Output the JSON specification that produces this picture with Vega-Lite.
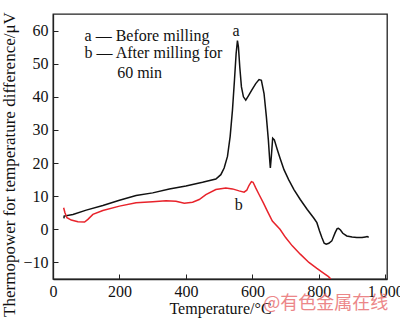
{
  "$schema": "https://vega.github.io/schema/vega-lite/v6.json",
  "width": 334,
  "height": 265,
  "autosize": {"type": "none"},
  "padding": {"left": 53, "top": 14, "right": 13, "bottom": 45},
  "background": "white",
  "config": {
    "font": "Liberation Serif",
    "view": {"stroke": "#222", "strokeWidth": 1.3},
    "axis": {
      "grid": false,
      "domainColor": "#222",
      "domainWidth": 1.3,
      "tickColor": "#222",
      "tickWidth": 1,
      "tickSize": -5,
      "labelFont": "Liberation Serif",
      "labelFontSize": 16,
      "labelColor": "#111",
      "labelOverlap": false,
      "titleFont": "Liberation Serif",
      "titleFontWeight": "normal",
      "titleColor": "#111"
    }
  },
  "datasets": {
    "curves": [
      {"s": "a", "x": 33, "y": 3.3},
      {"s": "a", "x": 33.5, "y": 4.0},
      {"s": "a", "x": 60, "y": 4.5},
      {"s": "a", "x": 100, "y": 5.8},
      {"s": "a", "x": 150, "y": 7.2},
      {"s": "a", "x": 200, "y": 8.8},
      {"s": "a", "x": 250, "y": 10.2},
      {"s": "a", "x": 300, "y": 11.0},
      {"s": "a", "x": 350, "y": 12.2},
      {"s": "a", "x": 400, "y": 13.1},
      {"s": "a", "x": 450, "y": 14.2},
      {"s": "a", "x": 490, "y": 15.2},
      {"s": "a", "x": 505, "y": 16.5},
      {"s": "a", "x": 515, "y": 18.5},
      {"s": "a", "x": 525, "y": 22},
      {"s": "a", "x": 533, "y": 28},
      {"s": "a", "x": 540, "y": 36},
      {"s": "a", "x": 546, "y": 45},
      {"s": "a", "x": 551, "y": 53},
      {"s": "a", "x": 555, "y": 57},
      {"s": "a", "x": 558, "y": 55},
      {"s": "a", "x": 562, "y": 49},
      {"s": "a", "x": 567, "y": 43},
      {"s": "a", "x": 573, "y": 40},
      {"s": "a", "x": 580, "y": 39},
      {"s": "a", "x": 588, "y": 40.3},
      {"s": "a", "x": 598, "y": 42},
      {"s": "a", "x": 610, "y": 44},
      {"s": "a", "x": 620, "y": 45.2},
      {"s": "a", "x": 627, "y": 45},
      {"s": "a", "x": 635, "y": 41},
      {"s": "a", "x": 642, "y": 34},
      {"s": "a", "x": 648, "y": 27},
      {"s": "a", "x": 652, "y": 21},
      {"s": "a", "x": 654, "y": 18.5},
      {"s": "a", "x": 657, "y": 22},
      {"s": "a", "x": 661, "y": 27.5},
      {"s": "a", "x": 666, "y": 27},
      {"s": "a", "x": 675, "y": 24},
      {"s": "a", "x": 683, "y": 21.5},
      {"s": "a", "x": 695, "y": 18},
      {"s": "a", "x": 709, "y": 15},
      {"s": "a", "x": 725, "y": 12},
      {"s": "a", "x": 744, "y": 9},
      {"s": "a", "x": 765, "y": 6},
      {"s": "a", "x": 784, "y": 3.5},
      {"s": "a", "x": 794, "y": 2},
      {"s": "a", "x": 802, "y": -0.5},
      {"s": "a", "x": 809, "y": -2.5},
      {"s": "a", "x": 816, "y": -4.2},
      {"s": "a", "x": 822, "y": -4.5},
      {"s": "a", "x": 830, "y": -4.2},
      {"s": "a", "x": 839, "y": -3.5},
      {"s": "a", "x": 849, "y": -1},
      {"s": "a", "x": 855, "y": 0.2},
      {"s": "a", "x": 859, "y": 0.3},
      {"s": "a", "x": 865, "y": -0.2},
      {"s": "a", "x": 872, "y": -1.2},
      {"s": "a", "x": 884, "y": -2},
      {"s": "a", "x": 900, "y": -2.3},
      {"s": "a", "x": 914, "y": -2.5},
      {"s": "a", "x": 930, "y": -2.5},
      {"s": "a", "x": 940, "y": -2.3},
      {"s": "a", "x": 945, "y": -2.2},
      {"s": "a", "x": 950, "y": -2.4},
      {"s": "b", "x": 32, "y": 6.5},
      {"s": "b", "x": 36, "y": 5},
      {"s": "b", "x": 42, "y": 3.5},
      {"s": "b", "x": 55, "y": 2.8},
      {"s": "b", "x": 75, "y": 2.3},
      {"s": "b", "x": 95, "y": 2.2},
      {"s": "b", "x": 105, "y": 3},
      {"s": "b", "x": 120, "y": 4.5},
      {"s": "b", "x": 150, "y": 5.7},
      {"s": "b", "x": 200, "y": 7},
      {"s": "b", "x": 250, "y": 8},
      {"s": "b", "x": 300, "y": 8.3},
      {"s": "b", "x": 340, "y": 8.6},
      {"s": "b", "x": 370, "y": 8.5},
      {"s": "b", "x": 395, "y": 7.9},
      {"s": "b", "x": 420, "y": 8.2},
      {"s": "b", "x": 440, "y": 9},
      {"s": "b", "x": 460, "y": 10.5},
      {"s": "b", "x": 490, "y": 12},
      {"s": "b", "x": 520, "y": 12.5},
      {"s": "b", "x": 540, "y": 12.2},
      {"s": "b", "x": 560, "y": 11.6},
      {"s": "b", "x": 575, "y": 11.2},
      {"s": "b", "x": 583, "y": 11.8},
      {"s": "b", "x": 590, "y": 13.3},
      {"s": "b", "x": 597, "y": 14.4},
      {"s": "b", "x": 602, "y": 14.2},
      {"s": "b", "x": 610, "y": 12.5},
      {"s": "b", "x": 620, "y": 10.5},
      {"s": "b", "x": 633, "y": 8},
      {"s": "b", "x": 645, "y": 5.5},
      {"s": "b", "x": 660, "y": 2.5},
      {"s": "b", "x": 683, "y": 0},
      {"s": "b", "x": 700, "y": -2.5},
      {"s": "b", "x": 720, "y": -5},
      {"s": "b", "x": 744, "y": -7.5},
      {"s": "b", "x": 770, "y": -10},
      {"s": "b", "x": 794, "y": -11.8},
      {"s": "b", "x": 815, "y": -13.3},
      {"s": "b", "x": 829, "y": -14.3},
      {"s": "b", "x": 836, "y": -15}
    ],
    "notes": [
      {"t": "a — Before milling", "x": 95, "y": 58.5},
      {"t": "b — After milling for", "x": 95, "y": 53.2},
      {"t": "60 min", "x": 193, "y": 47.2},
      {"t": "a", "x": 540, "y": 59.8},
      {"t": "b", "x": 547, "y": 7.2}
    ],
    "mark": [
      {"t": "@有色金属在线", "x": 821, "y": -22.6}
    ]
  },
  "layer": [
    {
      "data": {"name": "curves"},
      "mark": {"type": "line", "strokeWidth": 1.5, "clip": true},
      "encoding": {
        "x": {
          "field": "x", "type": "quantitative",
          "scale": {"domain": [0, 1005], "nice": false, "zero": false},
          "axis": {
            "title": "Temperature/°C",
            "titleFontSize": 16,
            "titlePadding": 1,
            "values": [0, 200, 400, 600, 800, 1000],
            "tickCount": 12,
            "labelExpr": "datum.value == 1000 ? '1 000' : datum.label",
            "labelPadding": 9,
            "labelOverlap": false,
            "labelFlush": false
          }
        },
        "y": {
          "field": "y", "type": "quantitative",
          "scale": {"domain": [-15, 65], "nice": false, "zero": false},
          "axis": {
            "title": "Thermopower for temperature difference/μV",
            "titleFontSize": 17,
            "titlePadding": 4,
            "titleY": 150,
            "values": [-10, 0, 10, 20, 30, 40, 50, 60],
            "tickCount": 16,
            "labelOverlap": false,
            "labelBound": false,
            "labelPadding": 10
          }
        },
        "color": {
          "field": "s", "type": "nominal",
          "scale": {"domain": ["a", "b"], "range": ["#111111", "#e8232b"]},
          "legend": null
        }
      }
    },
    {
      "data": {"name": "notes"},
      "mark": {"type": "text", "fontSize": 16, "baseline": "middle", "align": "left", "color": "#111"},
      "encoding": {
        "x": {"field": "x", "type": "quantitative"},
        "y": {"field": "y", "type": "quantitative"},
        "text": {"field": "t"}
      }
    },
    {
      "data": {"name": "mark"},
      "mark": {"type": "text", "font": "Noto Sans CJK SC", "fontSize": 18, "baseline": "middle", "align": "center", "color": "#e8696b", "opacity": 0.8},
      "encoding": {
        "x": {"field": "x", "type": "quantitative"},
        "y": {"field": "y", "type": "quantitative"},
        "text": {"field": "t"}
      }
    }
  ]
}
